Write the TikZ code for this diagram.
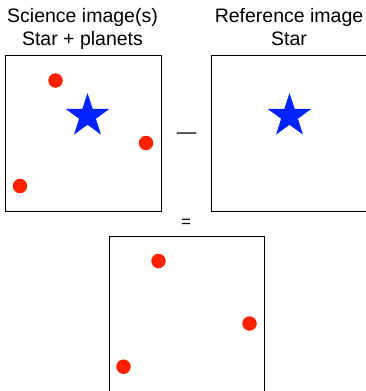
\documentclass[tikz,border=0pt]{standalone}
\usepackage{fontspec}
\setmainfont{Liberation Sans}
\usetikzlibrary{shapes.geometric}
\definecolor{planetred}{RGB}{255,34,0}
\definecolor{starblue}{RGB}{0,34,255}
\begin{document}
\begin{tikzpicture}[x=1pt,y=-1pt,
    frame/.style={draw, line width=1pt},
    planet/.style={circle, fill=planetred, inner sep=0pt, minimum size=14.5pt},
    host/.style={star, star points=5, star point ratio=2.618, fill=starblue, inner sep=0pt, minimum size=46pt},
    caption/.style={font=\fontsize{19.5}{23}\selectfont, anchor=base}]
    \useasboundingbox (0,0) rectangle (365,391);
    \node[caption] (scititle) at (82.5,22.7) {Science image(s)};
    \node[caption] (scisub) at (82.5,45.7) {Star + planets};
    \node[caption] (reftitle) at (289,22.7) {Reference image};
    \node[caption] (refsub) at (289,45.7) {Star};
    \draw[frame] (5,55) rectangle (161,211);
    \draw[frame] (211,55) rectangle (367,211);
    \draw[frame] (109,236) rectangle (264,392);
    \node[host] (scistar) at (87.5,116) {};
    \node[host] (refstar) at (289.5,116) {};
    \node[planet] (p1) at (55.5,80.5) {};
    \node[planet] (p2) at (146,143) {};
    \node[planet] (p3) at (20,186) {};
    \node[planet] (q1) at (158.5,261) {};
    \node[planet] (q2) at (249.5,323.5) {};
    \node[planet] (q3) at (123.5,366.7) {};
    \node[font=\fontsize{19.5}{23}\selectfont, inner sep=0pt] (minus) at (186.5,135.5) {—};
    \node[font=\fontsize{17}{20}\selectfont, inner sep=0pt] (equals) at (186,223) {=};
\end{tikzpicture}
\end{document}
